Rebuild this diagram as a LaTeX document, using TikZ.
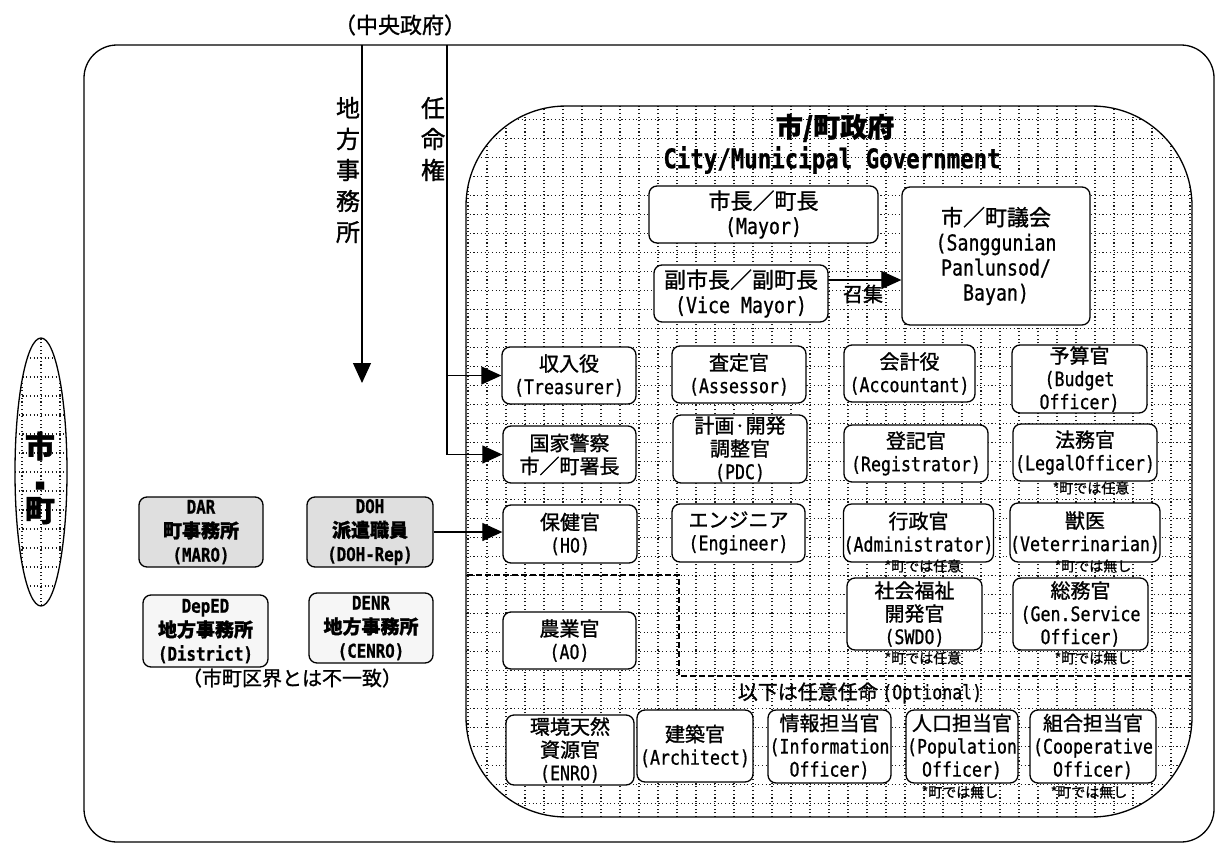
\documentclass[tikz,border=0pt]{standalone}
\usepackage{fontspec}
\setmainfont{Noto Sans CJK JP}[FakeBold=1.2]
\newfontfamily\latf[FakeStretch=0.83,FakeBold=0.8]{DejaVu Sans Mono}
\newcommand\eng[1]{{\latf #1}}
\usetikzlibrary{arrows.meta,shapes.geometric}
\tikzset{
  gridline/.style={black!90, line width=1.1pt, dash pattern=on 1.1pt off 2.6pt},
  frame/.style={draw, line width=1.3pt, inner sep=0pt},
  box/.style={draw, line width=1.3pt, rounded corners=8pt, fill=white, align=center,
    inner sep=0pt, font=\fontsize{20}{23}\selectfont},
  bigbox/.style={box, font=\fontsize{22}{25}\selectfont},
  lbox/.style={box, fill=gray!25, font=\bfseries\fontsize{19}{24}\selectfont},
  lboxb/.style={box, fill=gray!7, font=\bfseries\fontsize{19}{24}\selectfont},
  arr/.style={line width=1.2pt, -{Triangle[length=20pt,width=18pt]}},
  note/.style={font=\fontsize{14}{16}\selectfont, inner sep=0pt},
  lbl/.style={font=\fontsize{20}{22}\selectfont, inner sep=0pt},
  vlbl/.style={align=center, inner sep=0pt, font=\fontsize{24}{31}\selectfont},
  optline/.style={line width=1.1pt, dash pattern=on 6pt off 3pt},
}
\begin{document}
\begin{tikzpicture}[x=1pt,y=-1pt]
\useasboundingbox (0,0) rectangle (1218,854);

% outer frame
\node[frame, rounded corners=33pt, minimum width=1130pt, minimum height=797pt] (outer) at (649,443.5) {};

% inner government area with dotted grid
\node[frame, rounded corners=100pt, minimum width=726pt, minimum height=711pt,
  path picture={\draw[gridline, step=19pt] (path picture bounding box.south west) grid (path picture bounding box.north east);}]
  (inner) at (829,461.5) {};

% optional divider
\draw[optline] (467,575) -- (679,575) -- (679,676) -- (1192,676);

% left ellipse
\node[ellipse, frame, minimum width=52pt, minimum height=268pt,
  path picture={\draw[gridline, step=19pt] (path picture bounding box.south west) grid (path picture bounding box.north east);}]
  (city) at (41,472) {};
\node[align=center, inner sep=0pt, font=\bfseries\fontsize{30}{32}\selectfont] (citytxt) at (40,478) {市\\{\fontsize{10}{10}\selectfont ■}\\町};

% labels
\node[font=\fontsize{22}{24}\selectfont, inner sep=0pt] (cgov) at (400,25) {（中央政府）};
\node[vlbl] (chiho) at (348,170) {地\\方\\事\\務\\所};
\node[vlbl] (ninmei) at (433,139) {任\\命\\権};
\node[font=\bfseries\fontsize{27}{30}\selectfont, inner sep=0pt] (title1) at (835,128) {市/町政府};
\node[font=\latf\bfseries\fontsize{27}{30}\selectfont, inner sep=0pt] (title2) at (832,160) {City/Municipal Government};

% top boxes
\node[bigbox, minimum width=229pt, minimum height=57pt] (mayor) at (763.5,214.5) {市長／町長\\\eng{(Mayor)}};
\node[bigbox, minimum width=188pt, minimum height=138pt] (council) at (996,256) {市／町議会\\\eng{(Sanggunian}\\\eng{Panlunsod/}\\\eng{Bayan)}};
\node[bigbox, minimum width=174pt, minimum height=57pt] (vm) at (741,293.5) {副市長／副町長\\\eng{(Vice Mayor)}};

% mandatory officers
\node[box, minimum width=134pt, minimum height=57pt] (treas) at (569,375.5) {収入役\\\eng{(Treasurer)}};
\node[box, minimum width=134pt, minimum height=57pt] (assess) at (739,374.5) {査定官\\\eng{(Assessor)}};
\node[box, minimum width=131pt, minimum height=57pt] (acct) at (909.5,373.5) {会計役\\\eng{(Accountant)}};
\node[box, minimum width=135pt, minimum height=68pt] (budget) at (1079.5,379) {予算官\\\eng{(Budget}\\\eng{Officer)}};

\node[box, minimum width=133pt, minimum height=57pt] (police) at (569.5,454.5) {国家警察\\市／町署長};
\node[box, minimum width=134pt, minimum height=68pt] (pdc) at (740,449) {計画·開発\\調整官\\\eng{(PDC)}};
\node[box, minimum width=144pt, minimum height=57pt] (reg) at (916,453.5) {登記官\\\eng{(Registrator)}};
\node[box, minimum width=144pt, minimum height=57pt] (legal) at (1085,452.5) {法務官\\\eng{(LegalOfficer)}};

\node[box, minimum width=134pt, minimum height=58pt] (ho) at (570,534) {保健官\\\eng{(HO)}};
\node[box, minimum width=133pt, minimum height=58pt] (eng) at (738.5,533) {エンジニア\\\eng{(Engineer)}};
\node[box, minimum width=147pt, minimum height=58pt] (admin) at (918.5,533) {行政官\\\eng{(Administrator)}};
\node[box, minimum width=144pt, minimum height=59pt] (vet) at (1085,532.5) {獣医\\\eng{(Veterrinarian)}};

\node[box, minimum width=133pt, minimum height=57pt] (ao) at (569.5,640.5) {農業官\\\eng{(AO)}};
\node[box, minimum width=135pt, minimum height=72pt] (swdo) at (914.5,614) {社会福祉\\開発官\\\eng{(SWDO)}};
\node[box, minimum width=135pt, minimum height=72pt] (gso) at (1080.5,614) {総務官\\\eng{(Gen.Service}\\\eng{Officer)}};

% optional officers
\node[lbl] (opt) at (860,693) {以下は任意任命 \eng{(Optional)}};
\node[box, minimum width=128pt, minimum height=70pt] (enro) at (570,750) {環境天然\\資源官\\\eng{(ENRO)}};
\node[box, minimum width=116pt, minimum height=72pt] (arch) at (695,746) {建築官\\\eng{(Architect)}};
\node[box, minimum width=123pt, minimum height=73pt] (info) at (829.5,746.5) {情報担当官\\\eng{(Information}\\\eng{Officer)}};
\node[box, minimum width=112pt, minimum height=73pt] (pop) at (962,746.5) {人口担当官\\\eng{(Population}\\\eng{Officer)}};
\node[box, minimum width=126pt, minimum height=73pt] (coop) at (1093,746.5) {組合担当官\\\eng{(Cooperative}\\\eng{Officer)}};

% notes
\node[note] (n1) at (1091,488) {*町では任意};
\node[note] (n2) at (923,566) {*町では任意};
\node[note] (n3) at (1093,566) {*町では無し};
\node[note] (n4) at (923,658) {*町では任意};
\node[note] (n5) at (1093,658) {*町では無し};
\node[note] (n6) at (960,792) {*町では無し};
\node[note] (n7) at (1089,792) {*町では無し};

% national agency offices
\node[lbox, minimum width=124pt, minimum height=70pt] (dar) at (201,532) {\eng{DAR}\\町事務所\\\eng{(MARO)}};
\node[lbox, minimum width=126pt, minimum height=70pt] (doh) at (370,532) {\eng{DOH}\\派遣職員\\\eng{(DOH-Rep)}};
\node[lboxb, minimum width=125pt, minimum height=72pt] (deped) at (205.5,631) {\eng{DepED}\\地方事務所\\\eng{(District)}};
\node[lboxb, minimum width=124pt, minimum height=70pt] (denr) at (371,628) {\eng{DENR}\\地方事務所\\\eng{(CENRO)}};
\node[lbl] (bound) at (292,678) {（市町区界とは不一致）};

% connectors
\coordinate (l1top) at (362,45);
\coordinate (l1end) at (362,383);
\coordinate (l2top) at (447,45);
\coordinate (cy) at (0,280);
\draw[arr] (l1top) -- (l1end);
\draw[arr] (l2top) |- (police.west);
\draw[arr] (l2top |- treas.west) -- (treas.west);
\draw[arr] (doh.east) -- (doh.east -| ho.west);
\draw[arr] (vm.east |- cy) -- (council.west |- cy);
\node[lbl] (shoshu) at (863,294) {召集};
\end{tikzpicture}
\end{document}
